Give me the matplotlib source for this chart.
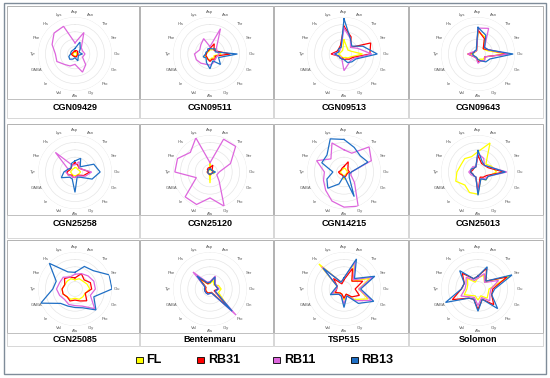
import matplotlib
matplotlib.use("Agg")
import matplotlib.pyplot as plt
from matplotlib.patches import Rectangle
import numpy as np

# amino acids, clockwise from the top
amino = ['Asp', 'Asn', 'Thr', 'Ser', 'Glu', 'Gln', 'Pro', 'Gly',
         'Ala', 'Val', 'Ile', 'GABA', 'Tyr', 'Phe', 'His', 'Lys']

series = ['FL', 'RB31', 'RB11', 'RB13']
colors = {'FL': '#FFFF00', 'RB31': '#FF0000', 'RB11': '#DD66DD', 'RB13': '#1F6FC5'}

# relative contents (0..1 of the outer ring)
cgn09429 = {
    'FL':   [0.05, 0.06, 0.05, 0.05, 0.06, 0.05, 0.05, 0.06, 0.05, 0.05, 0.05, 0.05, 0.06, 0.05, 0.05, 0.05],
    'RB31': [0.08, 0.10, 0.10, 0.07, 0.09, 0.07, 0.07, 0.09, 0.07, 0.07, 0.07, 0.08, 0.10, 0.07, 0.07, 0.07],
    'RB11': [0.30, 0.63, 0.24, 0.22, 0.27, 0.22, 0.41, 0.53, 0.28, 0.35, 0.40, 0.53, 0.53, 0.67, 0.80, 0.81],
    'RB13': [0.15, 0.35, 0.20, 0.12, 0.20, 0.10, 0.12, 0.20, 0.10, 0.15, 0.20, 0.18, 0.12, 0.12, 0.12, 0.12],
}
cgn09511 = {
    'FL':   [0.12, 0.12, 0.20, 0.20, 0.30, 0.12, 0.15, 0.12, 0.15, 0.15, 0.12, 0.15, 0.10, 0.08, 0.08, 0.08],
    'RB31': [0.15, 0.30, 0.15, 0.20, 0.55, 0.15, 0.20, 0.15, 0.20, 0.15, 0.12, 0.12, 0.10, 0.10, 0.10, 0.10],
    'RB11': [0.20, 0.74, 0.25, 0.20, 0.25, 0.20, 0.20, 0.25, 0.30, 0.30, 0.35, 0.40, 0.42, 0.30, 0.35, 0.45],
    'RB13': [0.15, 0.15, 0.20, 0.15, 0.74, 0.25, 0.40, 0.20, 0.40, 0.25, 0.15, 0.20, 0.12, 0.12, 0.10, 0.15],
}
cgn09513 = {
    'FL':   [0.38, 0.20, 0.15, 0.20, 0.50, 0.20, 0.15, 0.10, 0.10, 0.10, 0.10, 0.10, 0.15, 0.10, 0.10, 0.10],
    'RB31': [0.75, 0.50, 0.25, 0.78, 0.70, 0.25, 0.20, 0.15, 0.15, 0.12, 0.15, 0.15, 0.35, 0.20, 0.20, 0.25],
    'RB11': [0.70, 0.45, 0.25, 0.40, 0.75, 0.30, 0.25, 0.30, 0.45, 0.15, 0.12, 0.15, 0.30, 0.15, 0.15, 0.20],
    'RB13': [0.95, 0.45, 0.30, 0.55, 0.90, 0.35, 0.30, 0.25, 0.15, 0.15, 0.15, 0.15, 0.25, 0.15, 0.20, 0.20],
}
cgn09643 = {
    'FL':   [0.60, 0.50, 0.20, 0.25, 0.75, 0.20, 0.20, 0.15, 0.15, 0.10, 0.10, 0.12, 0.20, 0.10, 0.10, 0.10],
    'RB31': [0.65, 0.45, 0.20, 0.30, 0.80, 0.20, 0.25, 0.20, 0.20, 0.12, 0.12, 0.15, 0.28, 0.12, 0.10, 0.10],
    'RB11': [0.70, 0.75, 0.25, 0.30, 0.85, 0.20, 0.25, 0.20, 0.25, 0.12, 0.12, 0.15, 0.27, 0.15, 0.10, 0.10],
    'RB13': [0.72, 0.55, 0.25, 0.30, 0.95, 0.35, 0.30, 0.20, 0.15, 0.10, 0.10, 0.12, 0.15, 0.12, 0.12, 0.12],
}
cgn25258 = {
    'FL':   [0.12, 0.12, 0.10, 0.12, 0.15, 0.12, 0.10, 0.10, 0.10, 0.10, 0.10, 0.10, 0.12, 0.10, 0.10, 0.10],
    'RB31': [0.25, 0.20, 0.15, 0.20, 0.40, 0.25, 0.12, 0.12, 0.15, 0.15, 0.12, 0.20, 0.22, 0.15, 0.15, 0.20],
    'RB11': [0.20, 0.30, 0.15, 0.20, 0.45, 0.30, 0.15, 0.12, 0.15, 0.15, 0.15, 0.20, 0.25, 0.20, 0.75, 0.20],
    'RB13': [0.30, 0.40, 0.20, 0.55, 0.68, 0.50, 0.20, 0.15, 0.55, 0.20, 0.20, 0.40, 0.30, 0.20, 0.15, 0.25],
}
cgn25120 = {
    'FL':   [0.28, 0.05, 0.05, 0.10, 0.10, 0.12, 0.05, 0.05, 0.30, 0.05, 0.05, 0.05, 0.08, 0.05, 0.05, 0.05],
    'RB31': [0.12, 0.20, 0.08, 0.08, 0.08, 0.06, 0.06, 0.06, 0.08, 0.06, 0.06, 0.06, 0.08, 0.06, 0.10, 0.12],
    'RB11': [0.25, 0.96, 0.98, 0.60, 0.25, 0.20, 0.35, 1.00, 0.70, 0.95, 0.95, 0.40, 0.95, 0.95, 0.75, 1.00],
    'RB13': [0.08, 0.08, 0.06, 0.08, 0.15, 0.08, 0.06, 0.06, 0.06, 0.06, 0.06, 0.06, 0.06, 0.06, 0.06, 0.08],
}
cgn14215 = {
    'FL':   [0.10, 0.10, 0.08, 0.08, 0.10, 0.08, 0.08, 0.08, 0.20, 0.08, 0.08, 0.08, 0.12, 0.08, 0.08, 0.08],
    'RB31': [0.15, 0.30, 0.15, 0.12, 0.15, 0.10, 0.10, 0.12, 0.15, 0.10, 0.10, 0.12, 0.15, 0.10, 0.10, 0.12],
    'RB11': [0.60, 0.55, 0.96, 0.80, 0.20, 0.20, 0.40, 1.00, 0.95, 0.85, 0.70, 0.60, 0.53, 0.80, 0.50, 0.85],
    'RB13': [0.88, 0.72, 0.62, 0.70, 0.20, 0.15, 0.20, 0.72, 0.10, 0.35, 0.62, 0.50, 0.30, 0.65, 0.65, 0.97],
}
cgn25013 = {
    'FL':   [0.55, 0.85, 0.30, 0.40, 0.50, 0.30, 0.30, 0.20, 0.60, 0.60, 0.50, 0.65, 0.57, 0.50, 0.51, 0.45],
    'RB31': [0.45, 0.25, 0.25, 0.30, 0.70, 0.25, 0.20, 0.15, 0.55, 0.15, 0.15, 0.15, 0.20, 0.15, 0.15, 0.15],
    'RB11': [0.50, 0.40, 0.25, 0.35, 0.78, 0.30, 0.25, 0.20, 0.55, 0.15, 0.15, 0.20, 0.25, 0.20, 0.20, 0.15],
    'RB13': [0.58, 0.30, 0.25, 0.35, 0.74, 0.30, 0.30, 0.20, 0.63, 0.15, 0.15, 0.15, 0.20, 0.20, 0.15, 0.15],
}
cgn25085 = {
    'FL':   [0.25, 0.30, 0.30, 0.35, 0.40, 0.30, 0.30, 0.30, 0.25, 0.30, 0.30, 0.35, 0.35, 0.30, 0.30, 0.30],
    'RB31': [0.30, 0.45, 0.35, 0.45, 0.45, 0.30, 0.45, 0.35, 0.30, 0.35, 0.30, 0.35, 0.35, 0.30, 0.40, 0.35],
    'RB11': [0.40, 0.45, 0.50, 0.55, 0.55, 0.45, 0.75, 0.50, 0.45, 0.45, 0.40, 0.45, 0.50, 0.45, 0.45, 0.35],
    'RB13': [0.45, 0.66, 0.70, 1.00, 1.00, 0.55, 0.80, 0.55, 0.50, 0.50, 0.55, 1.00, 0.60, 0.55, 0.98, 0.50],
}
bentenmaru = {
    'FL':   [0.15, 0.25, 0.15, 0.25, 0.30, 0.25, 0.70, 0.10, 0.10, 0.12, 0.12, 0.12, 0.12, 0.12, 0.40, 0.15],
    'RB31': [0.18, 0.35, 0.18, 0.18, 0.22, 0.12, 0.80, 0.10, 0.10, 0.12, 0.12, 0.12, 0.12, 0.12, 0.45, 0.15],
    'RB11': [0.20, 0.38, 0.20, 0.20, 0.25, 0.15, 1.00, 0.12, 0.12, 0.15, 0.15, 0.15, 0.15, 0.15, 0.65, 0.20],
    'RB13': [0.18, 0.35, 0.18, 0.18, 0.22, 0.15, 0.85, 0.12, 0.12, 0.15, 0.15, 0.15, 0.15, 0.15, 0.50, 0.18],
}
tsp515 = {
    'FL':   [0.30, 0.75, 0.30, 0.75, 0.40, 0.70, 0.40, 0.15, 0.30, 0.15, 0.15, 0.30, 0.20, 0.20, 0.96, 0.20],
    'RB31': [0.25, 0.60, 0.30, 0.55, 0.30, 0.45, 0.30, 0.15, 0.25, 0.15, 0.15, 0.25, 0.20, 0.20, 0.40, 0.15],
    'RB11': [0.30, 0.80, 0.35, 0.85, 0.40, 0.80, 0.45, 0.20, 0.40, 0.20, 0.20, 0.35, 0.20, 0.20, 0.85, 0.20],
    'RB13': [0.30, 0.88, 0.40, 0.90, 0.45, 0.87, 0.55, 0.20, 0.50, 0.20, 0.20, 0.40, 0.25, 0.20, 0.80, 0.20],
}
solomon = {
    'FL':   [0.30, 0.40, 0.25, 0.95, 0.30, 0.30, 0.35, 0.20, 0.30, 0.20, 0.25, 0.40, 0.30, 0.30, 0.40, 0.20],
    'RB31': [0.35, 0.60, 0.30, 0.85, 0.40, 0.40, 0.60, 0.30, 0.55, 0.30, 0.35, 0.75, 0.45, 0.40, 0.60, 0.30],
    'RB11': [0.30, 0.45, 0.25, 0.60, 0.35, 0.35, 0.45, 0.25, 0.45, 0.25, 0.30, 0.50, 0.35, 0.35, 0.45, 0.25],
    'RB13': [0.35, 0.65, 0.30, 1.00, 0.45, 0.40, 0.75, 0.30, 0.60, 0.30, 0.35, 0.95, 0.45, 0.40, 0.70, 0.30],
}

panels = [('CGN09429', cgn09429), ('CGN09511', cgn09511), ('CGN09513', cgn09513), ('CGN09643', cgn09643),
          ('CGN25258', cgn25258), ('CGN25120', cgn25120), ('CGN14215', cgn14215), ('CGN25013', cgn25013),
          ('CGN25085', cgn25085), ('Bentenmaru', bentenmaru), ('TSP515', tsp515), ('Solomon', solomon)]

W, H = 550, 378
fig = plt.figure(figsize=(W / 100, H / 100), dpi=100)
plt.rcParams['font.family'] = ['Liberation Sans', 'DejaVu Sans']


def fx(x):
    return x / W


def fy(y):
    return 1 - y / H


def box(x0, y0, x1, y1, color='#A6A6A6', lw=0.6):
    fig.patches.append(Rectangle((fx(x0), fy(y1)), fx(x1) - fx(x0), fy(y0) - fy(y1),
                                 transform=fig.transFigure, fill=False,
                                 edgecolor=color, linewidth=lw))


# frame layout in pixels
col_edges = [(7, 139), (140, 273), (274, 408), (409, 543)]
col_cx = [75, 210, 344, 478]
row_plot = [(6, 99), (124, 215), (240, 333)]
row_cy = [54, 172, 289]
row_title_y = [108, 224, 339]
row_title_box = [(99, 118), (215, 238), (333, 346)]
R = 37

box(4, 3, 546, 374, color='#7F8C99', lw=1.0)

theta = np.linspace(0, 2 * np.pi, len(amino), endpoint=False)
theta_c = np.append(theta, theta[0])

for i, (name, vals) in enumerate(panels):
    r, c = divmod(i, 4)
    x0, x1 = col_edges[c]
    box(x0, row_plot[r][0], x1, row_plot[r][1])
    box(x0, row_title_box[r][0], x1, row_title_box[r][1], color='#C8C8C8', lw=0.5)

    cx, cy = col_cx[c], row_cy[r]
    ax = fig.add_axes([fx(cx - R), fy(cy + R), 2 * R / W, 2 * R / H], projection='polar')
    ax.set_theta_zero_location('N')
    ax.set_theta_direction(-1)
    ax.set_ylim(0, 1)
    ax.set_yticks([0.2, 0.4, 0.6, 0.8, 1.0])
    ax.set_yticklabels([])
    ax.set_xticks(theta)
    ax.set_xticklabels([])
    ax.tick_params(length=0)
    ax.yaxis.grid(True, color='#E6E6E6', linewidth=0.5)
    ax.xaxis.grid(False)
    ax.spines['polar'].set_visible(False)
    ax.set_facecolor('none')

    for s in series:
        v = vals[s] + vals[s][:1]
        ax.plot(theta_c, v, color=colors[s], linewidth=0.9, solid_joinstyle='miter')

    for t, lab in zip(theta, amino):
        ax.text(t, 1.13, lab, ha='center', va='center', fontsize=3, color='#595959')

    fig.text(fx(cx), fy(row_title_y[r]), name, ha='center', va='center',
             fontsize=6.5, fontweight='bold', color='black')

# legend row
leg_y = 360
leg_items = [('FL', 136, 146), ('RB31', 197, 208), ('RB11', 273, 284), ('RB13', 351, 361)]
sq = 6.5
for s, sx, tx in leg_items:
    fig.patches.append(Rectangle((fx(sx), fy(leg_y + sq / 2)), sq / W, sq / H,
                                 transform=fig.transFigure, facecolor=colors[s],
                                 edgecolor='black', linewidth=0.6))
    fig.text(fx(tx), fy(leg_y), s, ha='left', va='center', fontsize=9,
             fontweight='bold', color='black')

fig.savefig('out.png', dpi=100)
